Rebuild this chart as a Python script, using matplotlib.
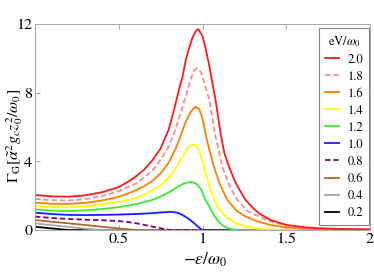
import matplotlib
matplotlib.use("Agg")
import matplotlib.pyplot as plt

plt.rcParams['font.family'] = ['STIXGeneral', 'DejaVu Serif']
plt.rcParams['mathtext.fontset'] = 'stix'

# eV/omega0 values
voltages = [0.2, 0.4, 0.6, 0.8, 1.0, 1.2, 1.4, 1.6, 1.8, 2.0]

x_02 = [0.0, 0.1, 0.2, 2.0]
y_02 = [0.19, 0.09, 0.0, 0.0]

x_04 = [0.0, 0.1, 0.2, 0.3, 0.4, 2.0]
y_04 = [0.39, 0.28, 0.18, 0.08, 0.0, 0.0]

x_06 = [0.0, 0.1, 0.2, 0.3, 0.4, 0.5, 0.6, 2.0]
y_06 = [0.58, 0.48, 0.39, 0.29, 0.19, 0.09, 0.0, 0.0]

x_08 = [0.0, 0.1, 0.2, 0.3, 0.4, 0.5, 0.55, 0.6, 0.65, 0.7, 0.75, 0.8, 2.0]
y_08 = [0.78, 0.70, 0.64, 0.60, 0.57, 0.52, 0.47, 0.40, 0.30, 0.20, 0.10, 0.0, 0.0]

x_10 = [0.0, 0.1, 0.2, 0.3, 0.4, 0.5, 0.6, 0.7, 0.75, 0.81, 0.85, 0.88, 0.91, 0.94, 0.97, 0.99, 1.0, 2.0]
y_10 = [1.01, 0.93, 0.88, 0.87, 0.88, 0.90, 0.93, 0.98, 1.02, 1.06, 1.01, 0.88, 0.70, 0.48, 0.22, 0.06, 0.0, 0.0]

x_12 = [0.0, 0.1, 0.2, 0.3, 0.4, 0.5, 0.6, 0.7, 0.75, 0.8, 0.85, 0.89, 0.93, 0.96, 0.99, 1.018, 1.045,
        1.068, 1.1, 1.13, 1.16, 1.2, 2.0]
y_12 = [1.20, 1.13, 1.11, 1.14, 1.22, 1.33, 1.50, 1.75, 1.95, 2.20, 2.50, 2.72, 2.80, 2.72, 2.40, 1.75, 1.30,
        0.85, 0.45, 0.20, 0.08, 0.0, 0.0]

x_14 = [0.0, 0.1, 0.2, 0.3, 0.4, 0.5, 0.6, 0.65, 0.7, 0.75, 0.8, 0.84, 0.87, 0.9, 0.92, 0.945, 0.965,
        0.985, 1.008, 1.035, 1.068, 1.1, 1.138, 1.2, 1.257, 1.33, 1.4, 1.5, 1.6, 2.0]
y_14 = [1.40, 1.33, 1.32, 1.37, 1.50, 1.64, 1.85, 2.05, 2.30, 2.60, 3.05, 3.60, 4.10, 4.60, 4.85, 4.97, 4.90,
        4.50, 3.69, 2.75, 1.75, 1.20, 0.78, 0.40, 0.20, 0.08, 0.03, 0.01, 0.0, 0.0]

x_16 = [0.0, 0.1, 0.2, 0.3, 0.4, 0.5, 0.6, 0.65, 0.7, 0.75, 0.8, 0.84, 0.87, 0.9, 0.93, 0.958, 0.98,
        1.0, 1.018, 1.04, 1.068, 1.1, 1.148, 1.2, 1.257, 1.33, 1.407, 1.5, 1.6, 1.75, 2.0]
y_16 = [1.59, 1.53, 1.52, 1.58, 1.72, 1.93, 2.30, 2.55, 2.85, 3.30, 3.95, 4.75, 5.50, 6.30, 6.90, 7.18, 7.05,
        6.50, 5.63, 4.70, 3.69, 2.75, 1.75, 1.15, 0.78, 0.50, 0.29, 0.15, 0.08, 0.03, 0.01]

x_18 = [0.0, 0.1, 0.2, 0.3, 0.4, 0.5, 0.6, 0.65, 0.7, 0.75, 0.8, 0.84, 0.87, 0.9, 0.93, 0.95, 0.968,
        0.99, 1.01, 1.042, 1.074, 1.118, 1.16, 1.208, 1.27, 1.337, 1.407, 1.5, 1.6, 1.7, 1.85, 2.0]
y_18 = [1.81, 1.74, 1.72, 1.80, 1.97, 2.27, 2.70, 3.05, 3.45, 4.10, 4.90, 5.90, 6.85, 7.80, 8.80, 9.30, 9.42,
        9.20, 8.60, 7.57, 5.63, 3.69, 2.60, 1.75, 1.10, 0.78, 0.50, 0.26, 0.14, 0.08, 0.04, 0.02]

x_20 = [0.0, 0.1, 0.2, 0.3, 0.4, 0.5, 0.55, 0.6, 0.65, 0.7, 0.75, 0.8, 0.83, 0.86, 0.88, 0.9, 0.92, 0.94,
        0.96, 0.975, 1.0, 1.02, 1.04, 1.06, 1.078, 1.09, 1.108, 1.13, 1.158, 1.2, 1.257, 1.3, 1.337,
        1.407, 1.5, 1.6, 1.7, 1.8, 1.9, 2.0]
y_20 = [2.04, 1.96, 1.94, 2.02, 2.20, 2.50, 2.78, 3.10, 3.50, 4.05, 4.75, 5.90, 7.00, 8.20, 8.90, 9.90, 10.60,
        11.20, 11.60, 11.70, 11.30, 10.50, 9.60, 8.50, 7.57, 6.80, 5.63, 4.50, 3.69, 2.70, 1.75, 1.30, 0.97,
        0.58, 0.30, 0.17, 0.10, 0.07, 0.05, 0.04]

series_x = [x_02, x_04, x_06, x_08, x_10, x_12, x_14, x_16, x_18, x_20]
series_y = [y_02, y_04, y_06, y_08, y_10, y_12, y_14, y_16, y_18, y_20]
colors = ['#000000', '#a6a6a6', '#a8682e', '#800080', '#1a1aff', '#33ee33', '#ffff00', '#ff8000',
          '#ff8c8c', '#ff1a1a']
styles = ['-', '-', '-', '--', '-', '-', '-', '-', '--', '-']

fig = plt.figure(figsize=(3.74, 2.80), dpi=100)
ax = fig.add_axes([35/374, 1 - 230/280, 335/374, 206/280])

handles = []
for xs, ys, v, c, ls in zip(series_x, series_y, voltages, colors, styles):
    h, = ax.plot(xs, ys, color=c, ls=ls, lw=1.3, label=f'{v:.1f}',
                 dashes=(3, 1.6) if ls == '--' else (None, None))
    handles.append(h)

ax.set_xlim(0, 2)
ax.set_ylim(0, 12)
ax.set_xticks([0.5, 1, 1.5, 2])
ax.set_xticklabels(['0.5', '1', '1.5', '2'])
ax.set_yticks([0, 4, 8, 12])
ax.tick_params(direction='in', length=3.5, width=0.6, color='#999999', labelsize=11.5,
               top=True, right=True, pad=2)
for s in ax.spines.values():
    s.set_color('#aaaaaa')
    s.set_linewidth(0.8)

ax.set_xlabel(r'$-\epsilon/\omega_0$', fontsize=12.5)
ax.xaxis.set_label_coords(0.507, -0.10)
ax.set_ylabel(r'$\Gamma_{\rm G}[\tilde{\alpha}^2 g_c z_0^2/\omega_0]$', fontsize=11.5)
ax.yaxis.set_label_coords(-0.030, 0.456)

leg = ax.legend(handles[::-1], [h.get_label() for h in handles[::-1]],
                title=r'eV/$\omega_0$', loc='upper right', bbox_to_anchor=(0.998, 0.982),
                borderaxespad=0, fontsize=9, title_fontsize=9, frameon=True, fancybox=False,
                handlelength=1.1, handletextpad=0.7, labelspacing=0.42, borderpad=0.5)
leg.get_frame().set_edgecolor('#666666')
leg.get_frame().set_linewidth(0.8)

fig.savefig('out.png', dpi=100)
